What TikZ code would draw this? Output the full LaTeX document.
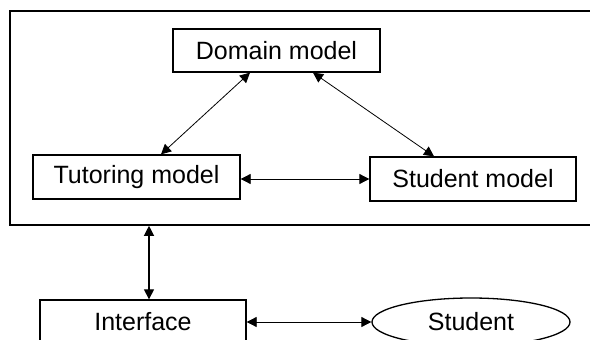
\documentclass[tikz,border=0pt]{standalone}
\usepackage{fontspec}
\setmainfont{Liberation Sans}
\usetikzlibrary{arrows.meta,shapes.geometric}
\tikzset{
  box/.style={draw, line width=1.3pt, rectangle, inner sep=0pt, minimum width=207pt, minimum height=44pt, font=\fontsize{25}{30}\selectfont},
  oval/.style={draw, line width=1.3pt, ellipse, inner sep=0pt, minimum width=198pt, minimum height=48pt, font=\fontsize{25}{30}\selectfont},
  frame/.style={draw, line width=1.6pt, rectangle, inner sep=0pt},
  link/.style={line width=0.8pt, {Triangle[length=10pt,width=10pt]}-{Triangle[length=10pt,width=10pt]}}
}
\begin{document}
\begin{tikzpicture}[x=1pt,y=1pt]
\useasboundingbox (0,0) rectangle (590,-340);
\clip (0,0) rectangle (590,-340);
\fill[white] (0,0) rectangle (590,-340);
\node[frame, minimum width=594pt, minimum height=214pt] (sys) at (307,-118) {};
\node[box, minimum width=207pt, minimum height=43pt] (dom) at (276.5,-50.5) {Domain model};
\node[box] (tut) at (136.5,-177) {Tutoring model};
\node[box, minimum width=206pt] (stu) at (473,-179) {Student model};
\node[box, minimum width=206pt] (intf) at (143,-322) {Interface};
\node[oval] (st) at (471,-322) {Student};
\draw[link] ([xshift=-26.5pt]dom.south) -- ([xshift=24.5pt]tut.north);
\draw[link] ([xshift=36.5pt]dom.south) -- ([xshift=-39pt]stu.north);
\draw[link] (tut.east |- 0,-179) -- (stu.west |- 0,-179);
\coordinate (vx) at ([xshift=6pt]intf.north);
\draw[link, line width=1.2pt] (sys.south -| vx) -- (vx);
\draw[link] (intf.east) -- (st.west);
\end{tikzpicture}
\end{document}
